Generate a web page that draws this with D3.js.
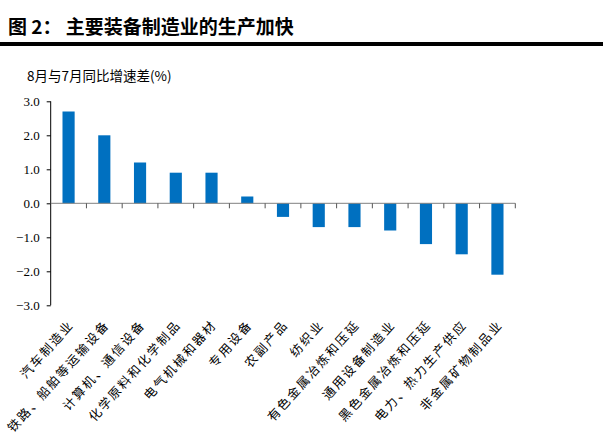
<!DOCTYPE html>
<html><head><meta charset="utf-8">
<script src="https://cdn.jsdelivr.net/npm/d3@7"></script>
<style>body{margin:0;background:#fff}svg{display:block}</style>
</head><body>
<svg id="c" width="610" height="438"></svg>
<script>
const categories = ["汽车制造业","铁路、船舶等运输设备","计算机、通信设备","化学原料和化学制品","电气机械和器材","专用设备","农副产品","纺织业","有色金属冶炼和压延","通用设备制造业","黑色金属冶炼和压延","电力、热力生产供应","非金属矿物制品业"];
const values = [2.7, 2.0, 1.2, 0.9, 0.9, 0.2, -0.4, -0.7, -0.7, -0.8, -1.2, -1.5, -2.1];
const yTicks = [3, 2, 1, 0, -1, -2, -3];
const titleText = "图 2：  主要装备制造业的生产加快";
const yTitle = "8月与7月同比增速差(%)";

const svg = d3.select("#c");
const x0 = 50.7, x1 = 515.3, yTop = 101.3, yBot = 305.3;

// title
svg.append("text").attr("x", 8).attr("y", 34)
  .attr("font-family", "'Noto Sans CJK SC', sans-serif").attr("font-weight", "bold")
  .attr("font-size", 19).attr("fill", "#000").text(titleText);
svg.append("rect").attr("x", 0).attr("y", 42).attr("width", 603).attr("height", 4).attr("fill", "#000");

svg.append("text").attr("x", 27).attr("y", 81)
  .attr("font-family", "'Noto Sans CJK SC', sans-serif").attr("font-size", 13.5)
  .attr("fill", "#000").text(yTitle);

const x = d3.scaleBand().domain(categories).range([x0, x1]).paddingInner(0.66).paddingOuter(0.33);
const y = d3.scaleLinear().domain([-3, 3]).range([yBot, yTop]);

// bars
svg.append("g").selectAll("rect").data(values).join("rect")
  .attr("x", (d, i) => x(categories[i]))
  .attr("width", x.bandwidth())
  .attr("y", d => y(Math.max(0, d)))
  .attr("height", d => Math.abs(y(d) - y(0)))
  .attr("fill", "#0070C0");

// y axis
const ya = svg.append("g").attr("transform", `translate(${x0},0)`)
  .call(d3.axisLeft(y).tickValues(yTicks).tickSize(4).tickPadding(7).tickFormat(d3.format(".1f")));
ya.attr("font-family", "'Liberation Serif', serif").attr("font-size", 13);
ya.select(".domain").attr("stroke", "#000").attr("d", `M0,${yTop}V${yBot}`);
ya.selectAll(".tick line").attr("stroke", "#000");
ya.selectAll("text").attr("fill", "#000");

// x axis at zero
const step = (x1 - x0) / categories.length;
const xa = svg.append("g").attr("transform", `translate(0,${y(0)})`);
xa.append("line").attr("x1", x0).attr("x2", x1).attr("stroke", "#808080").attr("stroke-width", 1);
xa.selectAll("line.t").data(categories).join("line").attr("class", "t")
  .attr("x1", (d) => x(d) + x.bandwidth() / 2 + step / 2)
  .attr("x2", (d) => x(d) + x.bandwidth() / 2 + step / 2)
  .attr("y1", 0).attr("y2", 5).attr("stroke", "#555");

// category labels
svg.append("g").selectAll("text").data(categories).join("text")
  .attr("transform", d => `translate(${x(d) + x.bandwidth() / 2 + 6},${yBot + 20}) rotate(-48)`)
  .attr("text-anchor", "end")
  .attr("font-family", "'Noto Sans CJK SC', sans-serif").attr("font-size", 12.5)
  .attr("letter-spacing", 2)
  .attr("fill", "#000").text(d => d);
</script>
</body></html>
